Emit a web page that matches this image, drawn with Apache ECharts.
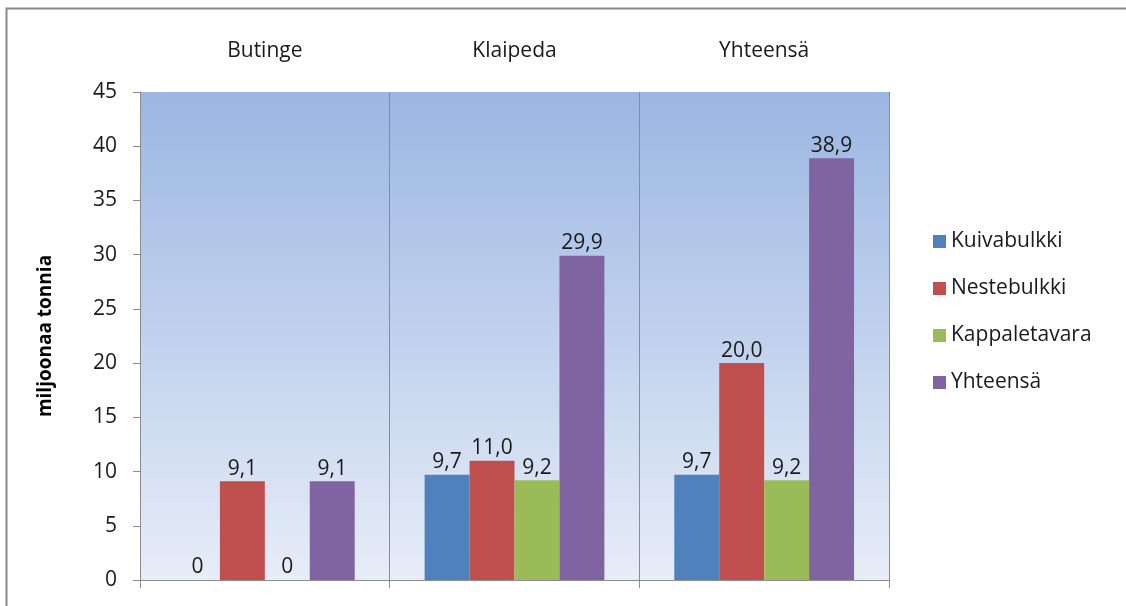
<!DOCTYPE html>
<html>
<head>
<meta charset="utf-8">
<script src="https://cdn.jsdelivr.net/npm/echarts@6/dist/echarts.min.js"></script>
<style>
html,body{margin:0;padding:0;background:#fff;}
#c{width:1126px;height:606px;}
</style>
</head>
<body>
<div id="c"></div>
<script>
const categories = ['Butinge', 'Klaipeda', 'Yhteensä'];
const seriesNames = ['Kuivabulkki', 'Nestebulkki', 'Kappaletavara', 'Yhteensä'];
const kuivabulkki = [0, 9.7, 9.7];
const nestebulkki = [9.1, 11.0, 20.0];
const kappaletavara = [0, 9.2, 9.2];
const yhteensa = [9.1, 29.9, 38.9];
const yTicks = [0, 5, 10, 15, 20, 25, 30, 35, 40, 45];
const colors = ['#4f81bd', '#c0504d', '#9bbb59', '#8064a2'];

const FONT = 'Open Sans';
const seriesData = [kuivabulkki, nestebulkki, kappaletavara, yhteensa];
const fmt = v => v === 0 ? '0' : v.toFixed(1).replace('.', ',');

const chart = echarts.init(document.getElementById('c'));
chart.setOption({
  animation: false,
  textStyle: { fontFamily: FONT },
  graphic: [{
    type: 'rect', silent: true, z: -10,
    shape: { x: 6.5, y: 8.5, width: 1300, height: 800 },
    style: { fill: 'none', stroke: '#888', lineWidth: 2 }
  }],
  grid: {
    left: 140, right: 237, top: 92, bottom: 26,
    show: true, borderWidth: 0,
    backgroundColor: {
      type: 'linear', x: 0, y: 0, x2: 0, y2: 1,
      colorStops: [{ offset: 0, color: '#9bb6e2' }, { offset: 1, color: '#e7edf8' }]
    }
  },
  legend: {
    orient: 'vertical', left: 928, top: 224, itemGap: 22,
    itemWidth: 13, itemHeight: 13, icon: 'rect',
    data: seriesNames,
    textStyle: { fontSize: 21, color: '#1a1a1a', fontFamily: FONT, lineHeight: 25 }
  },
  xAxis: [{
    type: 'category', data: categories, position: 'bottom',
    axisLine: { lineStyle: { color: '#8c8c8c', width: 1 } },
    axisTick: { show: true, length: 8, lineStyle: { color: '#8c8c8c' } },
    axisLabel: { show: false },
    splitLine: { show: true, lineStyle: { color: '#8c8c8c', width: 1 } }
  }, {
    type: 'category', data: categories, position: 'top',
    axisLine: { show: false }, axisTick: { show: false },
    axisLabel: { margin: 30, fontSize: 21, color: '#1a1a1a', fontFamily: FONT },
    splitLine: { show: false }
  }],
  yAxis: {
    type: 'value', min: yTicks[0], max: yTicks[yTicks.length - 1], interval: 5,
    name: 'miljoonaa tonnia', nameLocation: 'middle', nameGap: 85, nameRotate: 90,
    nameTextStyle: { fontSize: 19, fontWeight: 'bold', color: '#000', fontFamily: FONT },
    axisLine: { show: true, lineStyle: { color: '#8c8c8c' } },
    axisTick: { show: true, length: 7, lineStyle: { color: '#8c8c8c' } },
    axisLabel: { margin: 23, fontSize: 21, color: '#1a1a1a', fontFamily: FONT },
    splitLine: { show: false }
  },
  series: seriesNames.map((n, i) => ({
    name: n, type: 'bar', data: seriesData[i], xAxisIndex: 0,
    barGap: '0%', barCategoryGap: '28%',
    itemStyle: { color: colors[i] },
    label: {
      show: true, position: 'top', distance: 2,
      fontSize: 21, color: '#1a1a1a', fontFamily: FONT,
      formatter: p => fmt(p.value)
    }
  }))
});
</script>
</body>
</html>
